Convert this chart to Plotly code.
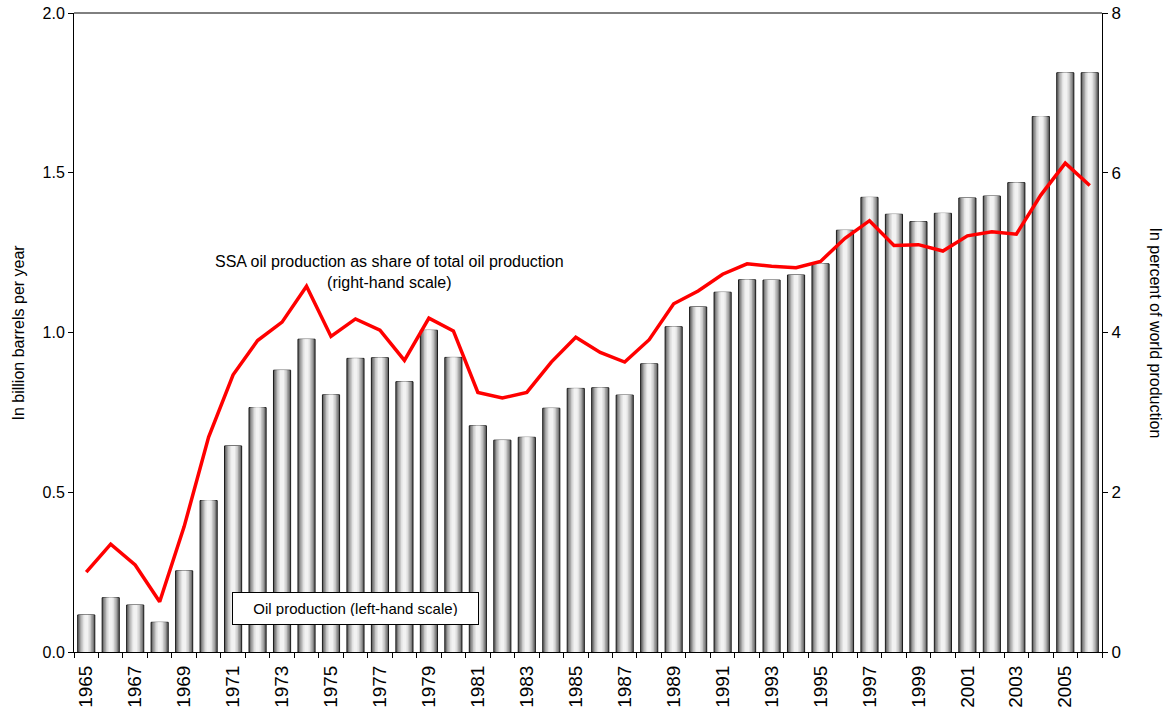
import plotly.graph_objects as go

years = list(range(1965, 2007))
oil_production = [0.116, 0.170, 0.147, 0.093, 0.254, 0.474, 0.645, 0.765, 0.882, 0.979,
                  0.805, 0.919, 0.921, 0.846, 1.007, 0.922, 0.708, 0.663, 0.672, 0.763,
                  0.825, 0.827, 0.804, 0.902, 1.018, 1.080, 1.126, 1.165, 1.164, 1.180,
                  1.215, 1.320, 1.423, 1.370, 1.347, 1.373, 1.421, 1.427, 1.469, 1.676,
                  1.813, 1.813]
ssa_share = [1.00, 1.35, 1.09, 0.63, 1.57, 2.69, 3.47, 3.90, 4.13, 4.58,
             3.95, 4.17, 4.03, 3.65, 4.18, 4.02, 3.25, 3.18, 3.25, 3.63,
             3.94, 3.75, 3.63, 3.91, 4.36, 4.52, 4.73, 4.86, 4.83, 4.81,
             4.89, 5.18, 5.40, 5.09, 5.10, 5.02, 5.21, 5.26, 5.23, 5.72,
             6.12, 5.84]
tick_years = list(range(1965, 2007, 2))
left_ticks = [0.0, 0.5, 1.0, 1.5, 2.0]
right_ticks = [0, 2, 4, 6, 8]

FONT = "Arial, Liberation Sans, sans-serif"

fig = go.Figure()

# cylinder-like shading: layered bars of decreasing width
layers = [(0.70, "#5a5a5a", 1.0), (0.62, "#7d7d7d", 0), (0.52, "#a3a3a3", 0),
          (0.40, "#c8c8c8", 0), (0.28, "#e2e2e2", 0), (0.16, "#f2f2f2", 0)]
for w, col, lw in layers:
    fig.add_trace(go.Bar(
        x=years, y=oil_production, width=w,
        marker=dict(color=col, line=dict(color="#1a1a1a", width=lw)),
        showlegend=False, hoverinfo="skip" if lw == 0 else None,
        yaxis="y"))

fig.add_trace(go.Scatter(
    x=years, y=ssa_share, mode="lines",
    line=dict(color="#ff0000", width=3.5),
    yaxis="y2", showlegend=False))

fig.update_layout(
    width=1173, height=708,
    margin=dict(l=74, r=71, t=13, b=56),
    paper_bgcolor="white", plot_bgcolor="white",
    barmode="overlay",
    font=dict(family=FONT, size=16, color="black"),
    xaxis=dict(
        range=[1964.5, 2006.5], automargin=False,
        tickmode="array", tickvals=tick_years, ticktext=[str(y) for y in tick_years],
        tickangle=-90, ticks="", showgrid=False, zeroline=False,
        showline=True, linecolor="black", linewidth=1, ticklabelstandoff=5,
        minor=dict(tickmode="array", tickvals=[y - 0.5 for y in years] + [2006.5],
                   ticks="outside", ticklen=5, tickcolor="black", showgrid=False),
        tickfont=dict(size=19),
    ),
    yaxis=dict(
        range=[0, 2.0], tickvals=left_ticks, tickformat=".1f", automargin=False,
        ticks="outside", ticklen=5, tickcolor="black",
        showgrid=False, zeroline=False, showline=True, linecolor="black", linewidth=1,
        mirror=False, tickfont=dict(size=16),
    ),
    yaxis2=dict(
        range=[0, 8], tickvals=right_ticks, overlaying="y", side="right", automargin=False,
        ticks="outside", ticklen=5, tickcolor="black",
        showgrid=False, zeroline=False, showline=True, linecolor="black", linewidth=1,
        tickfont=dict(size=17),
    ),
    shapes=[dict(type="line", xref="paper", yref="paper", x0=0, x1=1, y0=1, y1=1,
                 line=dict(color="black", width=1))],
    annotations=[
        dict(text="In billion barrels per year", xref="paper", yref="paper",
             x=0, y=0.5, xshift=-56, textangle=-90, showarrow=False,
             font=dict(size=16), xanchor="center", yanchor="middle"),
        dict(text="In percent of world production", xref="paper", yref="paper",
             x=1, y=0.5, xshift=53, textangle=90, showarrow=False,
             font=dict(size=16), xanchor="center", yanchor="middle"),
        dict(text="SSA oil production as share of total oil production<br>(right-hand scale)",
             xref="x", yref="paper", x=1977.37, y=0.595, showarrow=False,
             font=dict(size=16), xanchor="center", yanchor="middle", align="center"),
        dict(text="Oil production (left-hand scale)",
             xref="x", yref="paper", x=1976.0, y=0.068, showarrow=False,
             font=dict(size=15), xanchor="center", yanchor="middle",
             bgcolor="white", bordercolor="black", borderwidth=1, borderpad=8,
             width=229, height=15),
    ],
)

fig.write_html(
    "out.html",
    config={"displayModeBar": False},
    post_script="document.body.style.margin='0px';document.body.style.overflow='hidden';",
)
